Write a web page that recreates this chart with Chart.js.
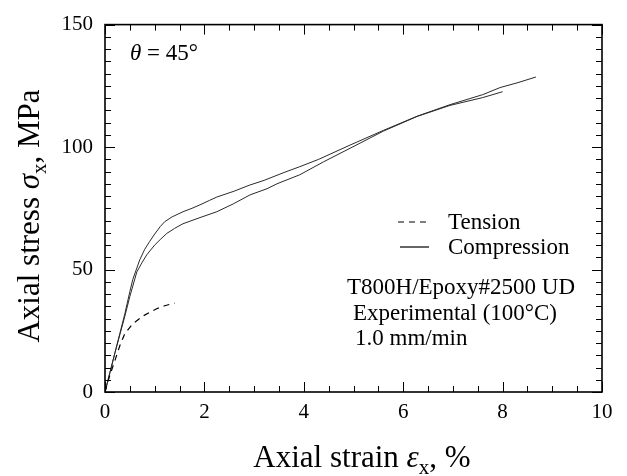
<!DOCTYPE html>
<html lang="en">
<head>
<meta charset="UTF-8">
<script src="https://cdn.jsdelivr.net/npm/chart.js@4.4.1/dist/chart.umd.min.js"></script>
<title>Axial stress vs axial strain, theta = 45</title>
<style>
  body { margin: 0; background: #fff; }
</style>
</head>
<body>
<canvas id="myChart" width="627" height="476"></canvas>
<script>
// (strain in %, stress in MPa)
const tensionStrain = [0, 0.05, 0.1, 0.2, 0.3, 0.4, 0.56, 0.77, 1.04, 1.2, 1.4];
const tensionStress = [0, 3.5, 7, 12.9, 19, 23.9, 27.9, 31.1, 34, 35.2, 36.3];

const comp1Strain = [0, 0.1, 0.2, 0.3, 0.4, 0.5, 0.56, 0.7, 0.8, 0.9, 1.0, 1.11, 1.2, 1.35, 1.57, 1.75, 1.91, 2.1, 2.25, 2.6, 2.9, 3.2, 3.6, 3.92, 4.3, 4.93, 5.6, 6.28, 6.94, 7.6, 7.95, 8.29, 8.67];
const comp1Stress = [0, 8, 16, 24, 32, 41, 46, 54, 58.3, 61.5, 64.5, 67.5, 69.5, 71.5, 73.6, 75, 76.4, 78.2, 79.6, 82, 84.4, 86.4, 89.6, 92, 95, 100.8, 106.8, 112.6, 117.3, 121.4, 124.3, 126.2, 128.6];

const comp2Strain = [0, 0.1, 0.2, 0.3, 0.4, 0.5, 0.64, 0.75, 0.84, 1.0, 1.11, 1.24, 1.4, 1.57, 1.91, 2.25, 2.58, 2.92, 3.26, 3.46, 3.92, 4.4, 4.93, 5.6, 6.28, 6.94, 7.6, 8.0];
const comp2Stress = [0, 8, 16, 23.5, 31, 39, 49, 53, 56, 60, 62.2, 64.7, 66.8, 68.7, 71.2, 73.6, 76.8, 80.5, 83, 85, 88.7, 94, 99.5, 106.5, 112.5, 117, 120.2, 122.6];

const xMin = 0, xMax = 10, xStep = 2, xMinor = 0.5;
const yMin = 0, yMax = 150, yStep = 50, yMinor = 5;

const serif = "'Liberation Serif', 'Times New Roman', serif";
const ink = '#000';
const curveInk = '#2a2a2a';

Chart.defaults.font.family = serif;

function pts(xs, ys) {
  return xs.map((x, i) => ({ x: x, y: ys[i] }));
}

// draws a run of text pieces: {t, italic, sub}
function drawRich(ctx, parts, x, y, size) {
  let cx = x;
  for (const p of parts) {
    const fs = p.sub ? Math.round(size * 0.68) : size;
    ctx.font = (p.italic ? 'italic ' : '') + fs + 'px ' + serif;
    ctx.fillText(p.t, cx, p.sub ? y + size * 0.22 : y);
    cx += ctx.measureText(p.t).width;
  }
  return cx - x;
}

function richWidth(ctx, parts, size) {
  let w = 0;
  for (const p of parts) {
    const fs = p.sub ? Math.round(size * 0.68) : size;
    ctx.font = (p.italic ? 'italic ' : '') + fs + 'px ' + serif;
    w += ctx.measureText(p.t).width;
  }
  return w;
}

const decor = {
  id: 'decor',
  afterDraw(chart) {
    const ctx = chart.ctx;
    const a = chart.chartArea;
    const xs = chart.scales.x, ys = chart.scales.y;
    ctx.save();
    ctx.strokeStyle = ink;
    ctx.fillStyle = ink;

    // inward ticks on all four sides
    ctx.lineWidth = 1;
    ctx.beginPath();
    for (let v = xMin; v <= xMax + 1e-9; v += xMinor) {
      const px = Math.round(xs.getPixelForValue(v)) + 0.5;
      const len = Math.abs(v % xStep) < 1e-9 ? 10 : 6;
      ctx.moveTo(px, a.bottom); ctx.lineTo(px, a.bottom - len);
      ctx.moveTo(px, a.top); ctx.lineTo(px, a.top + len);
    }
    for (let v = yMin; v <= yMax + 1e-9; v += yMinor) {
      const py = Math.round(ys.getPixelForValue(v)) + 0.5;
      const len = Math.abs(v % yStep) < 1e-9 ? 10 : 6;
      ctx.moveTo(a.left, py); ctx.lineTo(a.left + len, py);
      ctx.moveTo(a.right, py); ctx.lineTo(a.right - len, py);
    }
    ctx.stroke();

    // frame
    ctx.lineWidth = 1.6;
    ctx.strokeRect(a.left, a.top, a.right - a.left, a.bottom - a.top);

    // legend
    ctx.lineWidth = 1.2;
    ctx.setLineDash([6, 5]);
    ctx.beginPath(); ctx.moveTo(398, 222); ctx.lineTo(430, 222); ctx.stroke();
    ctx.setLineDash([]);
    ctx.beginPath(); ctx.moveTo(400, 247); ctx.lineTo(429, 247); ctx.stroke();

    ctx.textBaseline = 'middle';
    ctx.textAlign = 'left';
    ctx.font = '23px ' + serif;
    ctx.fillText('Tension', 448, 223);
    ctx.fillText('Compression', 448, 248);
    ctx.fillText('T800H/Epoxy#2500 UD', 347, 288);
    ctx.fillText('Experimental (100\u00B0C)', 353, 314);
    ctx.fillText('1.0 mm/min', 355, 339);

    // angle label
    drawRich(ctx, [{ t: '\u03B8', italic: true }, { t: ' = 45\u00B0' }], 130, 54, 23);

    // axis titles
    ctx.textBaseline = 'alphabetic';
    const xt = [{ t: 'Axial strain ' }, { t: '\u03B5', italic: true }, { t: 'x', sub: true }, { t: ', %' }];
    const xw = richWidth(ctx, xt, 31);
    drawRich(ctx, xt, 362 - xw / 2, 467, 31);

    const yt = [{ t: 'Axial stress ' }, { t: '\u03C3', italic: true }, { t: 'x', sub: true }, { t: ', MPa' }];
    const yw = richWidth(ctx, yt, 31);
    ctx.translate(39, 216);
    ctx.rotate(-Math.PI / 2);
    drawRich(ctx, yt, -yw / 2, 0, 31);

    ctx.restore();
  }
};

const ctx = document.getElementById('myChart').getContext('2d');
const myChart = new Chart(ctx, {
  type: 'line',
  data: {
    datasets: [
      {
        label: 'Tension',
        data: pts(tensionStrain, tensionStress),
        borderColor: ink,
        borderWidth: 1.2,
        borderDash: [6, 5]
      },
      {
        label: 'Compression',
        data: pts(comp1Strain, comp1Stress),
        borderColor: curveInk,
        borderWidth: 1
      },
      {
        label: 'Compression 2',
        data: pts(comp2Strain, comp2Stress),
        borderColor: curveInk,
        borderWidth: 1
      }
    ]
  },
  options: {
    responsive: false,
    animation: false,
    devicePixelRatio: 1,
    layout: { padding: { top: 21, right: 25, left: 0, bottom: 0 } },
    elements: { point: { radius: 0 }, line: { tension: 0, fill: false } },
    scales: {
      x: {
        type: 'linear',
        min: xMin,
        max: xMax,
        grid: { display: false, drawTicks: false },
        border: { display: false },
        ticks: {
          stepSize: xStep,
          maxRotation: 0,
          padding: 8,
          color: ink,
          font: { family: serif, size: 21 }
        },
        afterFit: (s) => { s.height = 84; }
      },
      y: {
        min: yMin,
        max: yMax,
        grid: { display: false, drawTicks: false },
        border: { display: false },
        ticks: {
          stepSize: yStep,
          padding: 12,
          color: ink,
          font: { family: serif, size: 21 }
        },
        afterFit: (s) => { s.width = 105; }
      }
    },
    plugins: {
      legend: { display: false },
      tooltip: { enabled: false }
    }
  },
  plugins: [decor]
});
</script>
</body>
</html>
